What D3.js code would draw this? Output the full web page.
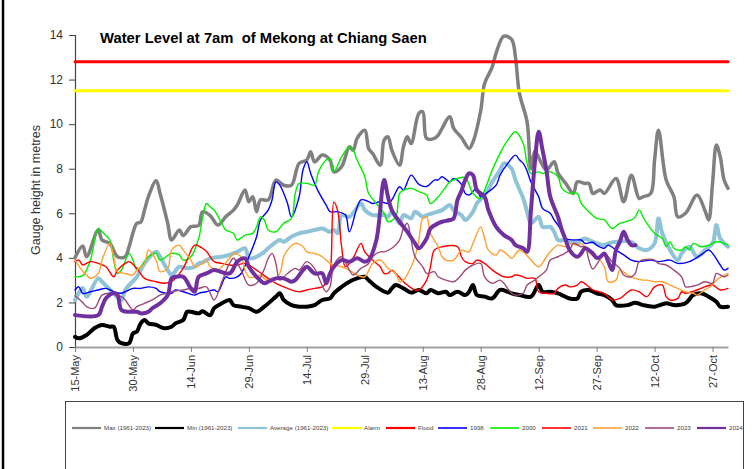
<!DOCTYPE html>
<html>
<head>
<meta charset="utf-8">
<script src="https://cdn.jsdelivr.net/npm/d3@7"></script>
<style>
  html, body { margin: 0; padding: 0; background: #fff; }
  svg { display: block; font-family: "Liberation Sans", Arial, sans-serif; }
</style>
</head>
<body>
<svg id="chart" width="756" height="469"></svg>
<script>
// ---------------- DATA ----------------
const chartTitle = "Water Level at 7am  of Mekong at Chiang Saen";
const yTitle = "Gauge height in metres";
const tickDays = [0, 15, 30, 45, 60, 75, 90, 105, 120, 135, 150, 165];
const tickLabels = ["15-May", "30-May", "14-Jun", "29-Jun", "14-Jul", "29-Jul", "13-Aug", "28-Aug", "12-Sep", "27-Sep", "12-Oct", "27-Oct"];
const yTicks = [0, 2, 4, 6, 8, 10, 12, 14];
const lastDay = 169; // 31-Oct, day offset from 15-May

const seriesNames = ["Max (1961-2023)", "Min (1961-2023)", "Average (1961-2023)", "Alarm", "Flood", "1998", "2000", "2021", "2022", "2023", "2024"];

// [day offset from 15-May, water level in metres]
const maxLevel = [[0,4.0],[2,4.53],[3,4.05],[6,5.25],[7,4.8],[9,4.65],[11,4.05],[13,4.05],[14,4.5],[16,5.55],[17,5.6],[18,6.15],[19,6.75],[21,7.46],[22,6.9],[24,5.55],[25,4.8],[27,5.25],[28,5.0],[30,5.4],[32,5.45],[33,6.07],[35,5.9],[37,5.47],[39,5.84],[41,6.14],[42,6.37],[44,7.04],[45,6.52],[46,6.74],[47,6.07],[48,6.6],[50,6.6],[52,7.49],[54,7.26],[56,7.26],[58,8.24],[60,8.39],[61,8.76],[62,8.31],[64,8.61],[66,8.39],[67,7.86],[69,8.09],[71,8.98],[72,8.83],[73,9.36],[75,9.73],[76,8.91],[77,8.69],[79,8.16],[80,9.28],[81,9.43],[82,8.83],[84,8.16],[85,8.98],[86,9.43],[87,9.13],[89,10.48],[90,10.55],[91,9.36],[93,9.36],[94,9.51],[97,10.33],[98,9.81],[100,9.4],[102,8.91],[103,9.2],[105,10.6],[106,11.82],[108,12.57],[109,13.2],[111,13.95],[113,13.8],[114,13.0],[115,11.4],[117,10.1],[118,8.0],[119,8.8],[120,8.5],[122,7.94],[124,8.31],[125,7.8],[127,7.34],[129,6.89],[130,7.41],[132,7.34],[133,7.34],[134,6.89],[135,6.97],[136,7.04],[137,6.89],[140,7.56],[142,6.52],[144,7.71],[146,6.67],[147,6.74],[149,6.89],[150,8.39],[151,9.73],[153,7.49],[155,6.74],[156,5.84],[158,6.0],[161,6.82],[163,6.14],[164,5.7],[165,7.34],[166,9.06],[167,8.53],[168,7.49],[169,7.12]];

const minLevel = [[0,0.46],[1,0.39],[3,0.54],[5,0.84],[7,0.99],[9,0.91],[10,0.91],[11,0.31],[12,0.17],[14,0.17],[15,0.61],[16,0.69],[17,1.06],[18,1.21],[19,1.06],[21,0.99],[22,0.91],[23,0.84],[25,0.91],[26,1.06],[28,1.21],[29,1.58],[30,1.58],[32,1.51],[33,1.6],[35,1.43],[36,1.74],[38,1.96],[40,2.11],[41,1.88],[43,1.81],[45,1.74],[47,1.58],[49,1.81],[52,2.26],[53,2.41],[54,2.11],[56,1.88],[58,1.81],[60,1.81],[62,1.88],[64,2.11],[66,2.18],[67,2.41],[69,2.7],[71,2.93],[73,3.08],[75,3.15],[76,3.0],[78,2.7],[81,2.44],[82,2.63],[83,2.78],[85,2.63],[87,2.44],[89,2.56],[91,2.41],[92,2.56],[94,2.41],[96,2.48],[97,2.33],[99,2.48],[101,2.33],[102,2.48],[103,2.78],[104,2.33],[106,2.26],[108,2.18],[110,2.56],[112,2.48],[113,2.41],[115,2.33],[118,2.26],[120,2.78],[121,2.48],[123,2.48],[125,2.41],[126,2.33],[128,2.18],[130,2.18],[131,2.48],[133,2.56],[135,2.41],[137,2.33],[139,2.11],[140,1.88],[143,1.88],[145,1.99],[147,1.88],[150,1.81],[153,1.96],[155,1.88],[158,1.96],[160,2.33],[162,2.41],[164,2.26],[166,2.03],[167,1.81],[169,1.81]];

const avgLevel = [[0,2.1],[2,2.65],[3,2.26],[6,3.08],[7,2.93],[10,2.41],[12,2.11],[13,2.56],[16,3.15],[18,3.75],[21,4.27],[22,4.05],[24,3.45],[25,3.23],[27,3.6],[29,3.53],[31,3.6],[32,3.75],[33,3.8],[35,3.98],[38,4.05],[40,4.13],[42,4.27],[44,4.43],[45,3.98],[47,4.05],[49,4.27],[50,4.43],[53,4.8],[54,4.72],[56,4.95],[58,5.1],[60,5.17],[62,5.25],[64,5.32],[66,5.17],[67,5.25],[68,5.1],[69,5.92],[71,5.84],[74,6.44],[75,6.14],[77,5.92],[80,5.92],[81,5.84],[82,6.07],[84,5.55],[85,5.92],[87,5.77],[88,6.07],[90,5.84],[91,5.92],[95,6.14],[97,6.37],[98,6.14],[100,5.92],[101,5.7],[103,6.07],[104,6.44],[106,6.82],[108,7.41],[110,7.94],[111,8.24],[113,8.0],[114,7.49],[116,6.67],[117,6.07],[118,5.55],[120,5.84],[121,5.39],[123,5.39],[124,5.17],[125,4.8],[127,4.8],[129,4.65],[131,4.8],[132,4.87],[133,4.8],[135,4.65],[137,4.57],[138,4.65],[140,4.72],[144,4.72],[146,4.43],[148,4.35],[150,4.65],[151,5.77],[152,5.1],[154,4.35],[156,3.9],[157,4.2],[159,4.5],[161,4.05],[163,4.35],[165,4.65],[166,5.47],[167,4.87],[169,4.5]];

const alarmLevel = [[0,11.5],[169,11.5]];
const floodLevel = [[0,12.8],[169,12.8]];

const y1998 = [[0,2.56],[1,2.7],[2,2.41],[4,2.48],[6,2.56],[8,2.63],[10,2.48],[12,2.41],[13,2.48],[15,2.63],[17,2.63],[19,2.7],[21,2.63],[22,2.48],[25,2.41],[26,2.56],[28,2.48],[31,2.33],[32,2.41],[34,2.48],[36,2.56],[37,2.48],[39,3.15],[40,3.08],[42,3.15],[43,3.3],[45,4.05],[47,4.95],[48,5.7],[50,6.14],[51,6.6],[52,7.41],[53,7.26],[55,6.44],[56,5.84],[58,6.74],[59,7.94],[60,8.31],[61,7.79],[63,6.97],[65,6.37],[66,6.07],[68,6.07],[70,5.92],[71,5.17],[74,6.6],[76,6.52],[77,6.44],[79,6.52],[81,6.44],[82,6.6],[84,7.19],[85,7.04],[87,7.71],[89,7.3],[91,7.2],[93,7.49],[94,7.5],[95,7.64],[97,7.41],[98,7.56],[100,7.3],[101,6.89],[102,6.82],[104,7.12],[105,6.74],[107,6.97],[109,7.26],[110,7.71],[112,8.24],[114,8.61],[115,8.4],[116,8.24],[117,7.9],[118,7.4],[120,6.74],[121,6.22],[123,6.0],[124,5.7],[125,5.47],[126,5.17],[127,4.87],[129,4.8],[131,4.8],[132,4.65],[134,4.7],[135,4.57],[137,4.43],[138,4.57],[140,4.35],[142,4.13],[144,3.9],[146,3.83],[149,3.9],[151,3.83],[154,3.9],[156,3.75],[159,3.83],[162,4.13],[164,4.35],[165,4.2],[167,3.68],[168,3.45],[169,3.53]];

const y2000 = [[0,3.15],[2,3.2],[4,3.9],[6,5.32],[7,5.17],[9,4.8],[10,3.9],[11,3.3],[12,3.45],[14,4.2],[15,3.9],[16,3.45],[17,3.6],[19,4.05],[21,4.2],[22,3.9],[25,4.2],[27,4.13],[28,3.9],[30,4.05],[32,4.87],[33,5.77],[34,6.44],[35,6.29],[36,6.14],[38,5.55],[39,5.25],[41,5.1],[42,4.8],[44,5.02],[46,5.1],[47,5.39],[48,5.84],[49,5.7],[50,5.25],[52,5.17],[54,5.55],[56,5.77],[57,6.89],[58,7.34],[60,7.34],[62,7.26],[63,7.86],[65,8.39],[66,8.46],[67,7.86],[69,8.53],[71,8.98],[72,8.83],[73,8.39],[75,7.64],[76,6.89],[78,6.44],[80,6.0],[81,5.62],[83,5.84],[84,6.89],[85,7.04],[87,7.12],[89,6.97],[91,6.82],[92,6.44],[94,6.74],[96,7.19],[97,7.41],[99,7.56],[101,7.6],[103,6.89],[105,6.67],[106,7.04],[108,7.94],[110,8.69],[112,9.28],[114,9.66],[116,9.13],[117,8.24],[118,7.79],[120,7.86],[121,7.79],[123,7.86],[125,7.64],[126,7.12],[128,6.89],[130,6.89],[131,6.44],[133,6.07],[135,5.77],[137,5.7],[139,5.32],[141,5.55],[144,5.7],[145,5.84],[146,6.14],[147,5.84],[148,5.55],[150,5.1],[152,4.87],[153,4.5],[154,4.72],[155,4.43],[157,4.35],[158,4.5],[159,4.35],[160,4.65],[162,4.5],[164,4.57],[166,4.72],[168,4.65],[169,4.57]];

const y2021 = [[0,3.83],[1,3.9],[2,3.68],[4,3.83],[6,3.75],[8,3.6],[10,3.15],[11,3.45],[13,3.75],[14,3.83],[16,3.53],[18,3.08],[21,2.93],[23,2.86],[25,2.93],[28,3.53],[29,3.9],[31,4.57],[33,4.43],[34,4.3],[36,3.83],[38,3.75],[40,3.68],[42,3.68],[44,3.75],[47,3.45],[50,3.08],[52,2.86],[54,2.7],[56,2.56],[58,2.48],[60,2.56],[62,2.63],[64,2.7],[65,2.9],[66,3.3],[67,6.5],[68,6.1],[69,4.5],[70,3.6],[72,4.0],[74,4.65],[75,4.27],[77,3.9],[79,3.6],[80,3.3],[81,3.3],[82,3.45],[83,3.3],[85,2.93],[86,2.78],[88,2.56],[89,2.56],[91,3.0],[92,3.6],[93,4.35],[95,4.5],[99,4.5],[100,4.05],[101,3.83],[103,3.75],[104,3.9],[106,3.75],[108,3.45],[110,3.23],[111,3.15],[113,3.15],[114,3.23],[116,3.15],[117,3.08],[119,3.08],[120,2.48],[122,2.41],[124,2.41],[125,2.63],[127,2.78],[128,2.7],[130,2.78],[131,2.93],[133,2.7],[134,2.56],[137,2.4],[139,2.11],[141,2.18],[144,2.56],[146,2.48],[148,2.26],[150,2.7],[152,2.78],[153,2.26],[154,2.11],[156,2.18],[157,2.48],[158,2.41],[162,2.63],[163,2.7],[165,2.78],[167,2.56],[169,2.63]];

const y2022 = [[0,3.9],[2,3.4],[3,3.23],[4,3.08],[6,3.3],[7,3.9],[9,4.65],[10,4.05],[11,3.38],[13,3.3],[15,3.23],[16,3.45],[18,3.75],[19,4.35],[21,3.9],[22,3.38],[24,3.53],[25,4.35],[27,4.57],[28,4.35],[30,3.9],[31,3.6],[33,3.75],[34,3.9],[35,3.6],[37,3.45],[38,3.6],[40,3.98],[41,4.2],[43,4.05],[44,3.45],[45,3.15],[47,3.15],[48,3.23],[49,3.08],[51,2.93],[53,3.3],[54,4.05],[55,4.35],[57,4.65],[59,4.5],[60,4.27],[62,4.2],[64,4.05],[66,3.75],[69,3.6],[71,3.45],[73,3.23],[75,3.15],[77,3.75],[79,3.9],[80,3.75],[81,3.53],[83,3.3],[84,2.93],[85,3.0],[87,3.6],[88,4.05],[89,4.8],[90,5.77],[91,5.84],[92,5.1],[94,4.5],[95,4.05],[96,3.9],[98,3.9],[100,4.35],[101,4.3],[102,4.27],[103,4.65],[105,5.39],[106,4.87],[107,4.35],[109,4.13],[110,4.35],[112,4.13],[113,3.98],[115,4.35],[116,4.27],[118,3.9],[120,3.6],[122,4.05],[123,4.27],[125,4.57],[127,4.5],[128,4.65],[130,4.57],[131,4.65],[133,4.27],[134,4.1],[135,4.05],[137,3.6],[138,2.93],[140,3.0],[141,3.45],[143,3.23],[145,3.08],[147,3.0],[148,3.0],[150,2.93],[152,2.93],[154,2.78],[156,2.63],[158,2.48],[160,2.41],[161,2.33],[163,2.56],[165,2.78],[166,3.0],[169,3.3]];

const y2023 = [[0,2.3],[2,2.0],[3,1.81],[5,1.74],[7,2.33],[9,2.41],[12,2.26],[13,2.11],[15,1.66],[16,1.81],[18,1.96],[20,2.11],[22,2.33],[24,2.41],[25,2.48],[28,2.56],[30,2.63],[32,2.63],[34,2.7],[36,2.11],[38,2.93],[40,3.75],[41,3.98],[43,3.45],[45,2.78],[47,2.86],[49,3.5],[50,3.98],[51,4.2],[52,3.75],[53,3.0],[55,3.3],[57,3.53],[58,3.45],[60,3.83],[62,3.53],[63,3.15],[65,2.48],[66,2.7],[67,3.68],[69,4.05],[71,3.45],[72,3.23],[74,3.53],[76,3.75],[77,4.05],[79,4.27],[80,4.27],[82,4.43],[84,4.8],[85,5.32],[86,5.55],[87,4.8],[88,4.05],[90,3.6],[91,3.3],[93,3.38],[94,3.15],[96,3.0],[98,2.93],[100,3.23],[101,3.45],[103,3.68],[105,3.75],[106,3.15],[108,2.86],[110,3.0],[111,2.86],[113,2.41],[114,2.33],[116,2.41],[117,2.78],[119,3.0],[120,3.15],[122,3.45],[123,3.9],[125,4.05],[126,4.13],[128,4.35],[129,4.65],[131,4.5],[132,4.5],[133,3.9],[134,3.5],[136,3.98],[137,4.2],[139,3.83],[141,3.53],[142,3.23],[144,3.15],[145,3.3],[146,3.83],[148,3.93],[150,3.9],[151,3.75],[153,3.68],[155,3.45],[157,3.15],[158,2.7],[159,2.7],[161,2.78],[163,2.93],[165,2.86],[166,3.3],[168,3.15],[169,3.23]];

const y2024 = [[0,1.43],[6,1.43],[7,1.81],[8,2.18],[10,2.41],[11,2.33],[12,1.66],[14,1.58],[16,1.58],[17,1.51],[19,1.58],[20,1.74],[22,1.96],[24,2.33],[25,3.08],[26,3.15],[28,3.15],[30,2.63],[31,2.48],[32,3.15],[34,3.3],[36,3.45],[40,3.3],[42,3.83],[44,3.98],[45,3.6],[47,3.15],[49,2.86],[50,2.93],[52,3.08],[54,3.08],[56,2.93],[57,3.0],[59,3.45],[60,3.6],[62,3.3],[64,3.3],[65,2.86],[66,3.3],[67,3.6],[69,3.9],[71,3.83],[73,3.98],[75,3.83],[76,3.9],[78,4.8],[80,7.49],[81,6.74],[82,6.14],[84,5.62],[86,5.17],[88,4.65],[89,4.43],[91,4.87],[92,5.32],[94,5.55],[95,5.62],[97,5.7],[98,5.77],[99,6.6],[100,7.0],[101,7.5],[102,7.79],[103,7.71],[104,7.04],[106,6.74],[107,6.14],[109,5.39],[111,5.02],[113,4.8],[114,4.57],[116,4.43],[117,4.27],[118,6.14],[119,8.24],[120,9.66],[121,8.83],[122,7.94],[123,6.74],[125,5.84],[126,5.25],[127,4.8],[128,4.35],[130,4.05],[131,4.2],[132,4.43],[134,4.2],[135,4.0],[136,4.05],[137,4.2],[138,3.83],[139,3.45],[140,4.35],[141,4.72],[142,5.17],[143,4.8],[144,4.57],[145,4.57]];

const seriesData = [maxLevel, minLevel, avgLevel, alarmLevel, floodLevel, y1998, y2000, y2021, y2022, y2023, y2024];
const seriesColors = ["#808080", "#000000", "#8fc3d8", "#ffff00", "#ff0000", "#0000ff", "#00ee00", "#ff0000", "#ffa030", "#9e4a78", "#7030a0"];
const seriesWidths = [3.5, 4, 4, 3, 3, 1.4, 1.4, 1.4, 1.4, 1.4, 4];

// ---------------- DRAW ----------------
const svg = d3.select("#chart");

// outer frame
svg.append("line").attr("x1", 3).attr("x2", 3).attr("y1", 0).attr("y2", 469)
  .attr("stroke", "#000").attr("stroke-width", 2.5);

const x = d3.scaleLinear().domain([0, lastDay]).range([75, 728]);
const y = d3.scaleLinear().domain([0, 14]).range([347, 35]);

// Y axis
const yAxis = svg.append("g").attr("transform", "translate(75,0)")
  .call(d3.axisLeft(y).tickValues(yTicks).tickSize(6).tickPadding(6).tickFormat(d3.format("d")));
yAxis.select(".domain").attr("stroke", "#444").attr("stroke-width", 1.2);
yAxis.selectAll(".tick line").attr("stroke", "#444");
yAxis.selectAll("text").attr("font-size", 12).attr("fill", "#333")
  .attr("font-family", "Liberation Sans, Arial, sans-serif");

// X axis
const xAxis = svg.append("g").attr("transform", "translate(0,347)")
  .call(d3.axisBottom(x).tickValues(tickDays).tickSize(5).tickSizeOuter(0)
    .tickFormat((d, i) => tickLabels[i]));
xAxis.select(".domain").attr("stroke", "#a0a0a0").attr("stroke-width", 2);
xAxis.selectAll(".tick line").attr("stroke", "#808080");
xAxis.selectAll("text")
  .attr("font-size", 11).attr("fill", "#333")
  .attr("font-family", "Liberation Sans, Arial, sans-serif")
  .attr("text-anchor", "end")
  .attr("transform", "rotate(-90)")
  .attr("x", -8).attr("y", 0).attr("dy", "0.35em");

// Series
const line = d3.line()
  .x(d => x(d[0])).y(d => y(d[1]))
  .curve(d3.curveCatmullRom.alpha(0.5));

const plot = svg.append("g");
seriesData.forEach((data, i) => {
  plot.append("path")
    .datum(data)
    .attr("fill", "none")
    .attr("stroke", seriesColors[i])
    .attr("stroke-width", seriesWidths[i])
    .attr("stroke-linejoin", "round")
    .attr("stroke-linecap", "round")
    .attr("d", line);
});

// Title
svg.append("text").attr("x", 100).attr("y", 43)
  .attr("font-size", 14.8).attr("font-weight", "bold").attr("fill", "#000")
  .style("white-space", "pre")
  .text(chartTitle);

// Y title
svg.append("text")
  .attr("transform", "translate(40,190) rotate(-90)")
  .attr("text-anchor", "middle")
  .attr("font-size", 12.5).attr("fill", "#333")
  .text(yTitle);

// Legend
const legend = svg.append("g");
legend.append("rect").attr("x", 65.5).attr("y", 401.5).attr("width", 678).attr("height", 80)
  .attr("fill", "#fff").attr("stroke", "#444").attr("stroke-width", 1);
const legendX = [72, 155, 238, 332, 386, 438, 490, 542, 593, 645, 697];
seriesNames.forEach((name, i) => {
  const lx = legendX[i];
  legend.append("line").attr("x1", lx).attr("x2", lx + 29).attr("y1", 428).attr("y2", 428)
    .attr("stroke", seriesColors[i]).attr("stroke-width", Math.min(seriesWidths[i], 2) + 0.2);
  legend.append("text").attr("x", lx + 32).attr("y", 430.3)
    .attr("font-size", 6.2).attr("fill", "#444").text(name);
});
</script>
</body>
</html>
